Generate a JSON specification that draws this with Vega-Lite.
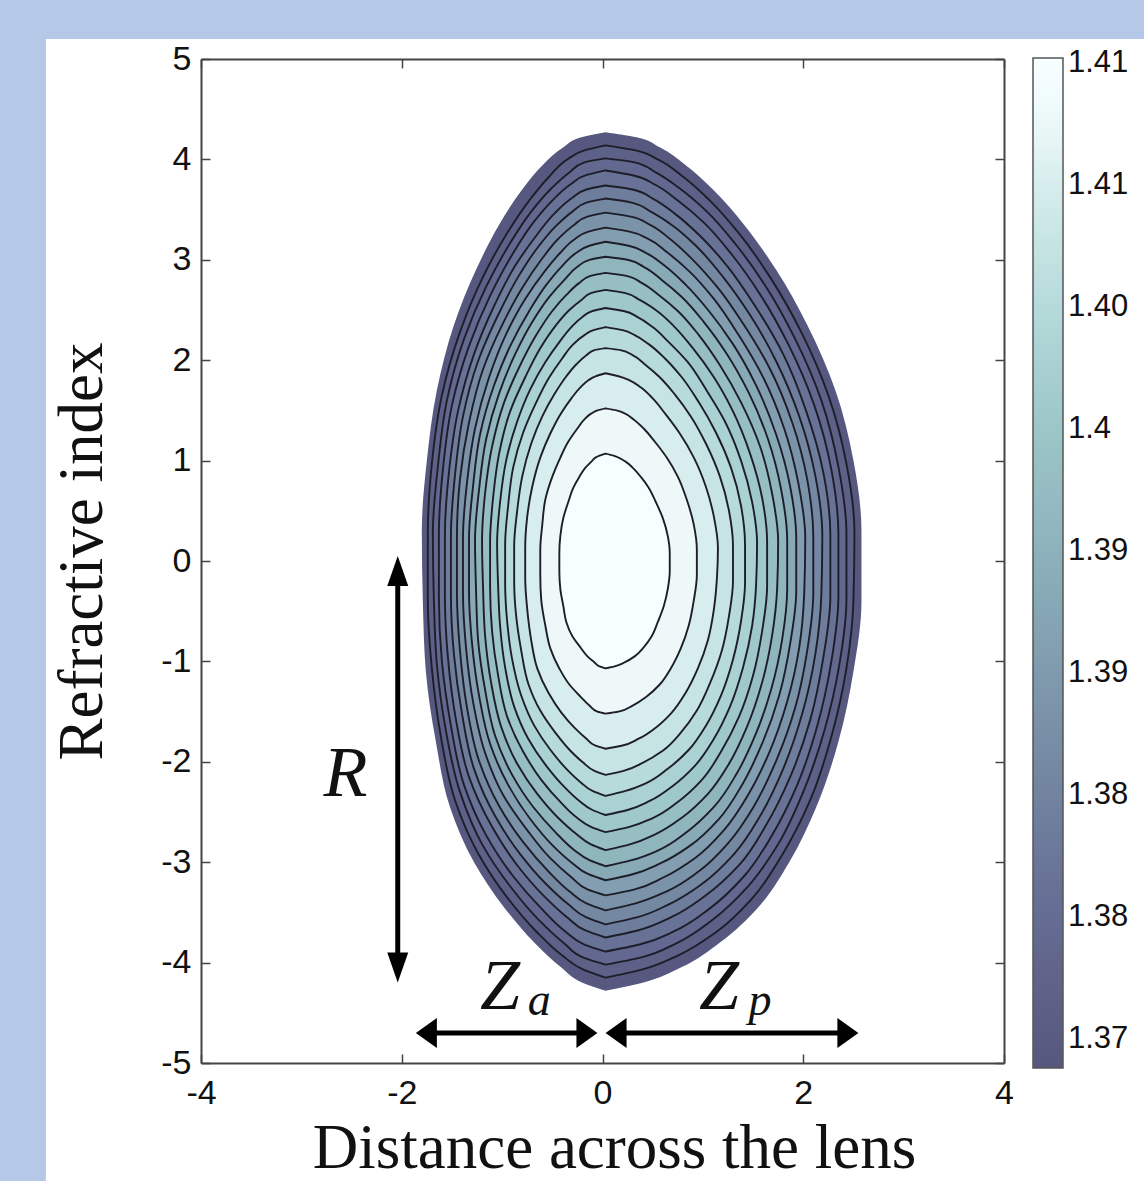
{
  "$schema": "https://vega.github.io/schema/vega-lite/v6.json",
  "width": 803,
  "height": 1004,
  "padding": {"left": 45, "top": 38, "right": 0, "bottom": 0},
  "background": "#b5c8e8",
  "config": {
    "view": {"stroke": null},
    "axis": {"grid": false, "domain": true, "domainColor": "#444444", "domainWidth": 2, "tickColor": "#444444", "tickWidth": 1.5, "tickSize": -9, "labelFont": "Liberation Sans", "labelFontSize": 34, "labelColor": "#111111", "titleFont": "Liberation Serif", "titleFontSize": 63, "titleFontWeight": "normal", "titleColor": "#111111"}
  },
  "datasets": {
    "contours": [
      {"k":0,"n":1.374,"y":4.27,"a":0.03,"b":0.03},{"k":0,"n":1.374,"y":4.22,"a":-0.21,"b":0.34},{"k":0,"n":1.374,"y":4.12,"a":-0.39,"b":0.57},{"k":0,"n":1.374,"y":3.95,"a":-0.59,"b":0.82},{"k":0,"n":1.374,"y":3.70,"a":-0.80,"b":1.10},{"k":0,"n":1.374,"y":3.35,"a":-1.03,"b":1.41},{"k":0,"n":1.374,"y":2.90,"a":-1.26,"b":1.73},{"k":0,"n":1.374,"y":2.35,"a":-1.48,"b":2.04},{"k":0,"n":1.374,"y":1.70,"a":-1.65,"b":2.32},{"k":0,"n":1.374,"y":1.00,"a":-1.75,"b":2.50},{"k":0,"n":1.374,"y":0.30,"a":-1.80,"b":2.58},{"k":0,"n":1.374,"y":-0.40,"a":-1.79,"b":2.58},{"k":0,"n":1.374,"y":-1.10,"a":-1.76,"b":2.50},{"k":0,"n":1.374,"y":-1.80,"a":-1.66,"b":2.35},{"k":0,"n":1.374,"y":-2.45,"a":-1.52,"b":2.13},{"k":0,"n":1.374,"y":-3.00,"a":-1.28,"b":1.86},{"k":0,"n":1.374,"y":-3.45,"a":-0.98,"b":1.55},{"k":0,"n":1.374,"y":-3.80,"a":-0.68,"b":1.17},{"k":0,"n":1.374,"y":-4.05,"a":-0.41,"b":0.78},{"k":0,"n":1.374,"y":-4.20,"a":-0.20,"b":0.40},{"k":0,"n":1.374,"y":-4.28,"a":0.03,"b":0.03},
      {"k":1,"n":1.3764,"y":4.14,"a":0.03,"b":0.03},{"k":1,"n":1.3764,"y":4.09,"a":-0.18,"b":0.33},{"k":1,"n":1.3764,"y":4.00,"a":-0.35,"b":0.55},{"k":1,"n":1.3764,"y":3.83,"a":-0.53,"b":0.80},{"k":1,"n":1.3764,"y":3.59,"a":-0.73,"b":1.07},{"k":1,"n":1.3764,"y":3.25,"a":-0.96,"b":1.37},{"k":1,"n":1.3764,"y":2.81,"a":-1.20,"b":1.68},{"k":1,"n":1.3764,"y":2.28,"a":-1.42,"b":1.98},{"k":1,"n":1.3764,"y":1.65,"a":-1.60,"b":2.25},{"k":1,"n":1.3764,"y":0.97,"a":-1.70,"b":2.43},{"k":1,"n":1.3764,"y":0.29,"a":-1.74,"b":2.51},{"k":1,"n":1.3764,"y":-0.39,"a":-1.74,"b":2.50},{"k":1,"n":1.3764,"y":-1.07,"a":-1.70,"b":2.43},{"k":1,"n":1.3764,"y":-1.75,"a":-1.61,"b":2.28},{"k":1,"n":1.3764,"y":-2.38,"a":-1.47,"b":2.07},{"k":1,"n":1.3764,"y":-2.91,"a":-1.24,"b":1.80},{"k":1,"n":1.3764,"y":-3.35,"a":-0.95,"b":1.50},{"k":1,"n":1.3764,"y":-3.69,"a":-0.66,"b":1.14},{"k":1,"n":1.3764,"y":-3.93,"a":-0.40,"b":0.75},{"k":1,"n":1.3764,"y":-4.07,"a":-0.19,"b":0.39},{"k":1,"n":1.3764,"y":-4.15,"a":0.03,"b":0.03},
      {"k":2,"n":1.3788,"y":4.01,"a":0.03,"b":0.03},{"k":2,"n":1.3788,"y":3.97,"a":-0.18,"b":0.32},{"k":2,"n":1.3788,"y":3.87,"a":-0.33,"b":0.53},{"k":2,"n":1.3788,"y":3.71,"a":-0.51,"b":0.77},{"k":2,"n":1.3788,"y":3.48,"a":-0.71,"b":1.04},{"k":2,"n":1.3788,"y":3.15,"a":-0.93,"b":1.33},{"k":2,"n":1.3788,"y":2.73,"a":-1.16,"b":1.63},{"k":2,"n":1.3788,"y":2.21,"a":-1.38,"b":1.92},{"k":2,"n":1.3788,"y":1.60,"a":-1.55,"b":2.18},{"k":2,"n":1.3788,"y":0.94,"a":-1.64,"b":2.35},{"k":2,"n":1.3788,"y":0.28,"a":-1.69,"b":2.43},{"k":2,"n":1.3788,"y":-0.38,"a":-1.68,"b":2.43},{"k":2,"n":1.3788,"y":-1.03,"a":-1.65,"b":2.36},{"k":2,"n":1.3788,"y":-1.69,"a":-1.56,"b":2.21},{"k":2,"n":1.3788,"y":-2.30,"a":-1.42,"b":2.00},{"k":2,"n":1.3788,"y":-2.82,"a":-1.20,"b":1.75},{"k":2,"n":1.3788,"y":-3.24,"a":-0.92,"b":1.45},{"k":2,"n":1.3788,"y":-3.57,"a":-0.64,"b":1.10},{"k":2,"n":1.3788,"y":-3.81,"a":-0.38,"b":0.73},{"k":2,"n":1.3788,"y":-3.95,"a":-0.19,"b":0.38},{"k":2,"n":1.3788,"y":-4.02,"a":0.03,"b":0.03},
      {"k":3,"n":1.3812,"y":3.89,"a":0.03,"b":0.03},{"k":3,"n":1.3812,"y":3.84,"a":-0.17,"b":0.31},{"k":3,"n":1.3812,"y":3.75,"a":-0.32,"b":0.52},{"k":3,"n":1.3812,"y":3.59,"a":-0.50,"b":0.75},{"k":3,"n":1.3812,"y":3.37,"a":-0.69,"b":1.01},{"k":3,"n":1.3812,"y":3.05,"a":-0.90,"b":1.29},{"k":3,"n":1.3812,"y":2.64,"a":-1.12,"b":1.58},{"k":3,"n":1.3812,"y":2.14,"a":-1.33,"b":1.86},{"k":3,"n":1.3812,"y":1.55,"a":-1.50,"b":2.11},{"k":3,"n":1.3812,"y":0.91,"a":-1.59,"b":2.28},{"k":3,"n":1.3812,"y":0.27,"a":-1.63,"b":2.35},{"k":3,"n":1.3812,"y":-0.36,"a":-1.63,"b":2.35},{"k":3,"n":1.3812,"y":-1.00,"a":-1.60,"b":2.28},{"k":3,"n":1.3812,"y":-1.64,"a":-1.51,"b":2.14},{"k":3,"n":1.3812,"y":-2.23,"a":-1.38,"b":1.94},{"k":3,"n":1.3812,"y":-2.73,"a":-1.16,"b":1.69},{"k":3,"n":1.3812,"y":-3.14,"a":-0.89,"b":1.41},{"k":3,"n":1.3812,"y":-3.46,"a":-0.61,"b":1.07},{"k":3,"n":1.3812,"y":-3.69,"a":-0.37,"b":0.71},{"k":3,"n":1.3812,"y":-3.82,"a":-0.18,"b":0.37},{"k":3,"n":1.3812,"y":-3.89,"a":0.03,"b":0.03},
      {"k":4,"n":1.3836,"y":3.74,"a":0.03,"b":0.03},{"k":4,"n":1.3836,"y":3.70,"a":-0.16,"b":0.30},{"k":4,"n":1.3836,"y":3.61,"a":-0.31,"b":0.50},{"k":4,"n":1.3836,"y":3.46,"a":-0.48,"b":0.72},{"k":4,"n":1.3836,"y":3.24,"a":-0.66,"b":0.97},{"k":4,"n":1.3836,"y":2.94,"a":-0.87,"b":1.24},{"k":4,"n":1.3836,"y":2.54,"a":-1.08,"b":1.52},{"k":4,"n":1.3836,"y":2.06,"a":-1.28,"b":1.80},{"k":4,"n":1.3836,"y":1.49,"a":-1.44,"b":2.03},{"k":4,"n":1.3836,"y":0.88,"a":-1.53,"b":2.20},{"k":4,"n":1.3836,"y":0.26,"a":-1.57,"b":2.27},{"k":4,"n":1.3836,"y":-0.35,"a":-1.57,"b":2.27},{"k":4,"n":1.3836,"y":-0.96,"a":-1.54,"b":2.20},{"k":4,"n":1.3836,"y":-1.58,"a":-1.46,"b":2.07},{"k":4,"n":1.3836,"y":-2.15,"a":-1.33,"b":1.87},{"k":4,"n":1.3836,"y":-2.63,"a":-1.11,"b":1.63},{"k":4,"n":1.3836,"y":-3.03,"a":-0.85,"b":1.36},{"k":4,"n":1.3836,"y":-3.33,"a":-0.59,"b":1.03},{"k":4,"n":1.3836,"y":-3.55,"a":-0.35,"b":0.68},{"k":4,"n":1.3836,"y":-3.68,"a":-0.17,"b":0.35},{"k":4,"n":1.3836,"y":-3.75,"a":0.03,"b":0.03},
      {"k":5,"n":1.3861,"y":3.61,"a":0.03,"b":0.03},{"k":5,"n":1.3861,"y":3.57,"a":-0.16,"b":0.29},{"k":5,"n":1.3861,"y":3.48,"a":-0.30,"b":0.48},{"k":5,"n":1.3861,"y":3.34,"a":-0.46,"b":0.70},{"k":5,"n":1.3861,"y":3.13,"a":-0.64,"b":0.94},{"k":5,"n":1.3861,"y":2.83,"a":-0.84,"b":1.20},{"k":5,"n":1.3861,"y":2.45,"a":-1.04,"b":1.47},{"k":5,"n":1.3861,"y":1.99,"a":-1.24,"b":1.73},{"k":5,"n":1.3861,"y":1.44,"a":-1.39,"b":1.96},{"k":5,"n":1.3861,"y":0.85,"a":-1.47,"b":2.12},{"k":5,"n":1.3861,"y":0.25,"a":-1.51,"b":2.19},{"k":5,"n":1.3861,"y":-0.34,"a":-1.51,"b":2.18},{"k":5,"n":1.3861,"y":-0.93,"a":-1.48,"b":2.12},{"k":5,"n":1.3861,"y":-1.52,"a":-1.40,"b":1.99},{"k":5,"n":1.3861,"y":-2.07,"a":-1.28,"b":1.80},{"k":5,"n":1.3861,"y":-2.54,"a":-1.07,"b":1.57},{"k":5,"n":1.3861,"y":-2.92,"a":-0.82,"b":1.31},{"k":5,"n":1.3861,"y":-3.21,"a":-0.57,"b":1.00},{"k":5,"n":1.3861,"y":-3.42,"a":-0.34,"b":0.66},{"k":5,"n":1.3861,"y":-3.55,"a":-0.16,"b":0.34},{"k":5,"n":1.3861,"y":-3.62,"a":0.03,"b":0.03},
      {"k":6,"n":1.3885,"y":3.47,"a":0.03,"b":0.03},{"k":6,"n":1.3885,"y":3.43,"a":-0.15,"b":0.28},{"k":6,"n":1.3885,"y":3.35,"a":-0.28,"b":0.47},{"k":6,"n":1.3885,"y":3.21,"a":-0.44,"b":0.67},{"k":6,"n":1.3885,"y":3.00,"a":-0.61,"b":0.90},{"k":6,"n":1.3885,"y":2.72,"a":-0.80,"b":1.15},{"k":6,"n":1.3885,"y":2.35,"a":-1.00,"b":1.41},{"k":6,"n":1.3885,"y":1.91,"a":-1.19,"b":1.67},{"k":6,"n":1.3885,"y":1.38,"a":-1.33,"b":1.89},{"k":6,"n":1.3885,"y":0.81,"a":-1.42,"b":2.04},{"k":6,"n":1.3885,"y":0.24,"a":-1.45,"b":2.10},{"k":6,"n":1.3885,"y":-0.32,"a":-1.45,"b":2.10},{"k":6,"n":1.3885,"y":-0.89,"a":-1.42,"b":2.04},{"k":6,"n":1.3885,"y":-1.46,"a":-1.35,"b":1.92},{"k":6,"n":1.3885,"y":-1.99,"a":-1.23,"b":1.73},{"k":6,"n":1.3885,"y":-2.44,"a":-1.03,"b":1.51},{"k":6,"n":1.3885,"y":-2.80,"a":-0.79,"b":1.26},{"k":6,"n":1.3885,"y":-3.09,"a":-0.54,"b":0.96},{"k":6,"n":1.3885,"y":-3.29,"a":-0.33,"b":0.64},{"k":6,"n":1.3885,"y":-3.41,"a":-0.16,"b":0.33},{"k":6,"n":1.3885,"y":-3.48,"a":0.03,"b":0.03},
      {"k":7,"n":1.3909,"y":3.32,"a":0.03,"b":0.03},{"k":7,"n":1.3909,"y":3.28,"a":-0.14,"b":0.27},{"k":7,"n":1.3909,"y":3.21,"a":-0.27,"b":0.45},{"k":7,"n":1.3909,"y":3.07,"a":-0.42,"b":0.65},{"k":7,"n":1.3909,"y":2.88,"a":-0.58,"b":0.87},{"k":7,"n":1.3909,"y":2.61,"a":-0.77,"b":1.11},{"k":7,"n":1.3909,"y":2.26,"a":-0.96,"b":1.35},{"k":7,"n":1.3909,"y":1.83,"a":-1.13,"b":1.60},{"k":7,"n":1.3909,"y":1.32,"a":-1.27,"b":1.81},{"k":7,"n":1.3909,"y":0.78,"a":-1.35,"b":1.95},{"k":7,"n":1.3909,"y":0.23,"a":-1.39,"b":2.02},{"k":7,"n":1.3909,"y":-0.31,"a":-1.39,"b":2.01},{"k":7,"n":1.3909,"y":-0.86,"a":-1.36,"b":1.96},{"k":7,"n":1.3909,"y":-1.40,"a":-1.29,"b":1.84},{"k":7,"n":1.3909,"y":-1.91,"a":-1.17,"b":1.66},{"k":7,"n":1.3909,"y":-2.33,"a":-0.99,"b":1.45},{"k":7,"n":1.3909,"y":-2.68,"a":-0.75,"b":1.21},{"k":7,"n":1.3909,"y":-2.96,"a":-0.52,"b":0.92},{"k":7,"n":1.3909,"y":-3.15,"a":-0.31,"b":0.61},{"k":7,"n":1.3909,"y":-3.27,"a":-0.15,"b":0.32},{"k":7,"n":1.3909,"y":-3.33,"a":0.03,"b":0.03},
      {"k":8,"n":1.3933,"y":3.18,"a":0.03,"b":0.03},{"k":8,"n":1.3933,"y":3.14,"a":-0.13,"b":0.26},{"k":8,"n":1.3933,"y":3.07,"a":-0.26,"b":0.43},{"k":8,"n":1.3933,"y":2.94,"a":-0.40,"b":0.62},{"k":8,"n":1.3933,"y":2.75,"a":-0.56,"b":0.83},{"k":8,"n":1.3933,"y":2.49,"a":-0.73,"b":1.06},{"k":8,"n":1.3933,"y":2.16,"a":-0.91,"b":1.30},{"k":8,"n":1.3933,"y":1.75,"a":-1.08,"b":1.53},{"k":8,"n":1.3933,"y":1.26,"a":-1.22,"b":1.73},{"k":8,"n":1.3933,"y":0.74,"a":-1.29,"b":1.87},{"k":8,"n":1.3933,"y":0.22,"a":-1.33,"b":1.93},{"k":8,"n":1.3933,"y":-0.30,"a":-1.33,"b":1.93},{"k":8,"n":1.3933,"y":-0.82,"a":-1.30,"b":1.87},{"k":8,"n":1.3933,"y":-1.34,"a":-1.23,"b":1.76},{"k":8,"n":1.3933,"y":-1.82,"a":-1.12,"b":1.59},{"k":8,"n":1.3933,"y":-2.23,"a":-0.94,"b":1.39},{"k":8,"n":1.3933,"y":-2.57,"a":-0.72,"b":1.16},{"k":8,"n":1.3933,"y":-2.83,"a":-0.50,"b":0.88},{"k":8,"n":1.3933,"y":-3.01,"a":-0.30,"b":0.58},{"k":8,"n":1.3933,"y":-3.12,"a":-0.14,"b":0.30},{"k":8,"n":1.3933,"y":-3.18,"a":0.03,"b":0.03},
      {"k":9,"n":1.3957,"y":3.03,"a":0.03,"b":0.03},{"k":9,"n":1.3957,"y":3.00,"a":-0.13,"b":0.25},{"k":9,"n":1.3957,"y":2.93,"a":-0.25,"b":0.41},{"k":9,"n":1.3957,"y":2.80,"a":-0.38,"b":0.59},{"k":9,"n":1.3957,"y":2.63,"a":-0.53,"b":0.79},{"k":9,"n":1.3957,"y":2.38,"a":-0.70,"b":1.01},{"k":9,"n":1.3957,"y":2.06,"a":-0.87,"b":1.24},{"k":9,"n":1.3957,"y":1.67,"a":-1.03,"b":1.46},{"k":9,"n":1.3957,"y":1.21,"a":-1.16,"b":1.65},{"k":9,"n":1.3957,"y":0.71,"a":-1.23,"b":1.78},{"k":9,"n":1.3957,"y":0.21,"a":-1.27,"b":1.84},{"k":9,"n":1.3957,"y":-0.28,"a":-1.26,"b":1.84},{"k":9,"n":1.3957,"y":-0.78,"a":-1.24,"b":1.79},{"k":9,"n":1.3957,"y":-1.28,"a":-1.17,"b":1.68},{"k":9,"n":1.3957,"y":-1.74,"a":-1.07,"b":1.52},{"k":9,"n":1.3957,"y":-2.13,"a":-0.90,"b":1.33},{"k":9,"n":1.3957,"y":-2.45,"a":-0.69,"b":1.11},{"k":9,"n":1.3957,"y":-2.70,"a":-0.47,"b":0.84},{"k":9,"n":1.3957,"y":-2.88,"a":-0.28,"b":0.56},{"k":9,"n":1.3957,"y":-2.98,"a":-0.13,"b":0.29},{"k":9,"n":1.3957,"y":-3.04,"a":0.03,"b":0.03},
      {"k":10,"n":1.3981,"y":2.87,"a":0.03,"b":0.03},{"k":10,"n":1.3981,"y":2.84,"a":-0.12,"b":0.24},{"k":10,"n":1.3981,"y":2.77,"a":-0.23,"b":0.39},{"k":10,"n":1.3981,"y":2.65,"a":-0.36,"b":0.56},{"k":10,"n":1.3981,"y":2.49,"a":-0.50,"b":0.75},{"k":10,"n":1.3981,"y":2.25,"a":-0.66,"b":0.96},{"k":10,"n":1.3981,"y":1.95,"a":-0.82,"b":1.17},{"k":10,"n":1.3981,"y":1.58,"a":-0.98,"b":1.38},{"k":10,"n":1.3981,"y":1.14,"a":-1.10,"b":1.57},{"k":10,"n":1.3981,"y":0.67,"a":-1.17,"b":1.69},{"k":10,"n":1.3981,"y":0.20,"a":-1.20,"b":1.75},{"k":10,"n":1.3981,"y":-0.27,"a":-1.19,"b":1.74},{"k":10,"n":1.3981,"y":-0.74,"a":-1.17,"b":1.69},{"k":10,"n":1.3981,"y":-1.21,"a":-1.11,"b":1.59},{"k":10,"n":1.3981,"y":-1.65,"a":-1.01,"b":1.44},{"k":10,"n":1.3981,"y":-2.02,"a":-0.85,"b":1.26},{"k":10,"n":1.3981,"y":-2.32,"a":-0.65,"b":1.05},{"k":10,"n":1.3981,"y":-2.55,"a":-0.45,"b":0.80},{"k":10,"n":1.3981,"y":-2.72,"a":-0.26,"b":0.53},{"k":10,"n":1.3981,"y":-2.82,"a":-0.12,"b":0.28},{"k":10,"n":1.3981,"y":-2.88,"a":0.03,"b":0.03},
      {"k":11,"n":1.4005,"y":2.70,"a":0.03,"b":0.03},{"k":11,"n":1.4005,"y":2.67,"a":-0.11,"b":0.22},{"k":11,"n":1.4005,"y":2.60,"a":-0.21,"b":0.37},{"k":11,"n":1.4005,"y":2.50,"a":-0.33,"b":0.53},{"k":11,"n":1.4005,"y":2.34,"a":-0.47,"b":0.71},{"k":11,"n":1.4005,"y":2.12,"a":-0.62,"b":0.90},{"k":11,"n":1.4005,"y":1.83,"a":-0.77,"b":1.11},{"k":11,"n":1.4005,"y":1.49,"a":-0.92,"b":1.30},{"k":11,"n":1.4005,"y":1.07,"a":-1.03,"b":1.47},{"k":11,"n":1.4005,"y":0.63,"a":-1.09,"b":1.59},{"k":11,"n":1.4005,"y":0.19,"a":-1.12,"b":1.64},{"k":11,"n":1.4005,"y":-0.25,"a":-1.12,"b":1.64},{"k":11,"n":1.4005,"y":-0.70,"a":-1.10,"b":1.59},{"k":11,"n":1.4005,"y":-1.14,"a":-1.04,"b":1.50},{"k":11,"n":1.4005,"y":-1.55,"a":-0.95,"b":1.36},{"k":11,"n":1.4005,"y":-1.90,"a":-0.79,"b":1.18},{"k":11,"n":1.4005,"y":-2.18,"a":-0.61,"b":0.99},{"k":11,"n":1.4005,"y":-2.40,"a":-0.42,"b":0.75},{"k":11,"n":1.4005,"y":-2.56,"a":-0.25,"b":0.50},{"k":11,"n":1.4005,"y":-2.65,"a":-0.11,"b":0.26},{"k":11,"n":1.4005,"y":-2.70,"a":0.03,"b":0.03},
      {"k":12,"n":1.4029,"y":2.52,"a":0.03,"b":0.03},{"k":12,"n":1.4029,"y":2.49,"a":-0.10,"b":0.21},{"k":12,"n":1.4029,"y":2.43,"a":-0.20,"b":0.35},{"k":12,"n":1.4029,"y":2.33,"a":-0.31,"b":0.50},{"k":12,"n":1.4029,"y":2.18,"a":-0.43,"b":0.66},{"k":12,"n":1.4029,"y":1.98,"a":-0.57,"b":0.85},{"k":12,"n":1.4029,"y":1.71,"a":-0.72,"b":1.03},{"k":12,"n":1.4029,"y":1.39,"a":-0.85,"b":1.22},{"k":12,"n":1.4029,"y":1.00,"a":-0.96,"b":1.38},{"k":12,"n":1.4029,"y":0.59,"a":-1.02,"b":1.49},{"k":12,"n":1.4029,"y":0.18,"a":-1.05,"b":1.54},{"k":12,"n":1.4029,"y":-0.24,"a":-1.04,"b":1.53},{"k":12,"n":1.4029,"y":-0.65,"a":-1.02,"b":1.49},{"k":12,"n":1.4029,"y":-1.06,"a":-0.97,"b":1.40},{"k":12,"n":1.4029,"y":-1.45,"a":-0.88,"b":1.27},{"k":12,"n":1.4029,"y":-1.77,"a":-0.74,"b":1.11},{"k":12,"n":1.4029,"y":-2.04,"a":-0.56,"b":0.92},{"k":12,"n":1.4029,"y":-2.24,"a":-0.39,"b":0.70},{"k":12,"n":1.4029,"y":-2.39,"a":-0.23,"b":0.47},{"k":12,"n":1.4029,"y":-2.48,"a":-0.10,"b":0.25},{"k":12,"n":1.4029,"y":-2.53,"a":0.03,"b":0.03},
      {"k":13,"n":1.4053,"y":2.33,"a":0.03,"b":0.03},{"k":13,"n":1.4053,"y":2.30,"a":-0.09,"b":0.20},{"k":13,"n":1.4053,"y":2.25,"a":-0.18,"b":0.32},{"k":13,"n":1.4053,"y":2.16,"a":-0.29,"b":0.46},{"k":13,"n":1.4053,"y":2.02,"a":-0.40,"b":0.62},{"k":13,"n":1.4053,"y":1.83,"a":-0.53,"b":0.79},{"k":13,"n":1.4053,"y":1.58,"a":-0.66,"b":0.96},{"k":13,"n":1.4053,"y":1.28,"a":-0.79,"b":1.13},{"k":13,"n":1.4053,"y":0.93,"a":-0.89,"b":1.28},{"k":13,"n":1.4053,"y":0.55,"a":-0.94,"b":1.38},{"k":13,"n":1.4053,"y":0.16,"a":-0.97,"b":1.42},{"k":13,"n":1.4053,"y":-0.22,"a":-0.97,"b":1.42},{"k":13,"n":1.4053,"y":-0.60,"a":-0.95,"b":1.38},{"k":13,"n":1.4053,"y":-0.98,"a":-0.90,"b":1.30},{"k":13,"n":1.4053,"y":-1.34,"a":-0.81,"b":1.18},{"k":13,"n":1.4053,"y":-1.64,"a":-0.68,"b":1.03},{"k":13,"n":1.4053,"y":-1.88,"a":-0.52,"b":0.86},{"k":13,"n":1.4053,"y":-2.07,"a":-0.36,"b":0.65},{"k":13,"n":1.4053,"y":-2.21,"a":-0.21,"b":0.44},{"k":13,"n":1.4053,"y":-2.29,"a":-0.10,"b":0.23},{"k":13,"n":1.4053,"y":-2.34,"a":0.03,"b":0.03},
      {"k":14,"n":1.4077,"y":2.12,"a":0.03,"b":0.03},{"k":14,"n":1.4077,"y":2.10,"a":-0.08,"b":0.18},{"k":14,"n":1.4077,"y":2.05,"a":-0.16,"b":0.30},{"k":14,"n":1.4077,"y":1.96,"a":-0.26,"b":0.42},{"k":14,"n":1.4077,"y":1.84,"a":-0.36,"b":0.56},{"k":14,"n":1.4077,"y":1.66,"a":-0.48,"b":0.72},{"k":14,"n":1.4077,"y":1.44,"a":-0.60,"b":0.88},{"k":14,"n":1.4077,"y":1.17,"a":-0.71,"b":1.03},{"k":14,"n":1.4077,"y":0.84,"a":-0.80,"b":1.17},{"k":14,"n":1.4077,"y":0.50,"a":-0.85,"b":1.26},{"k":14,"n":1.4077,"y":0.15,"a":-0.88,"b":1.30},{"k":14,"n":1.4077,"y":-0.20,"a":-0.88,"b":1.30},{"k":14,"n":1.4077,"y":-0.55,"a":-0.86,"b":1.26},{"k":14,"n":1.4077,"y":-0.89,"a":-0.81,"b":1.19},{"k":14,"n":1.4077,"y":-1.22,"a":-0.74,"b":1.07},{"k":14,"n":1.4077,"y":-1.49,"a":-0.62,"b":0.94},{"k":14,"n":1.4077,"y":-1.71,"a":-0.47,"b":0.78},{"k":14,"n":1.4077,"y":-1.89,"a":-0.32,"b":0.60},{"k":14,"n":1.4077,"y":-2.01,"a":-0.19,"b":0.40},{"k":14,"n":1.4077,"y":-2.09,"a":-0.08,"b":0.21},{"k":14,"n":1.4077,"y":-2.13,"a":0.03,"b":0.03},
      {"k":15,"n":1.4102,"y":1.87,"a":0.03,"b":0.03},{"k":15,"n":1.4102,"y":1.84,"a":-0.07,"b":0.16},{"k":15,"n":1.4102,"y":1.80,"a":-0.14,"b":0.27},{"k":15,"n":1.4102,"y":1.73,"a":-0.22,"b":0.38},{"k":15,"n":1.4102,"y":1.62,"a":-0.31,"b":0.50},{"k":15,"n":1.4102,"y":1.46,"a":-0.42,"b":0.63},{"k":15,"n":1.4102,"y":1.27,"a":-0.52,"b":0.77},{"k":15,"n":1.4102,"y":1.03,"a":-0.62,"b":0.91},{"k":15,"n":1.4102,"y":0.74,"a":-0.70,"b":1.03},{"k":15,"n":1.4102,"y":0.44,"a":-0.75,"b":1.11},{"k":15,"n":1.4102,"y":0.13,"a":-0.77,"b":1.15},{"k":15,"n":1.4102,"y":-0.17,"a":-0.77,"b":1.14},{"k":15,"n":1.4102,"y":-0.48,"a":-0.75,"b":1.11},{"k":15,"n":1.4102,"y":-0.79,"a":-0.71,"b":1.05},{"k":15,"n":1.4102,"y":-1.07,"a":-0.65,"b":0.95},{"k":15,"n":1.4102,"y":-1.31,"a":-0.54,"b":0.83},{"k":15,"n":1.4102,"y":-1.51,"a":-0.41,"b":0.69},{"k":15,"n":1.4102,"y":-1.66,"a":-0.28,"b":0.53},{"k":15,"n":1.4102,"y":-1.77,"a":-0.16,"b":0.36},{"k":15,"n":1.4102,"y":-1.84,"a":-0.07,"b":0.19},{"k":15,"n":1.4102,"y":-1.87,"a":0.03,"b":0.03},
      {"k":16,"n":1.4126,"y":1.52,"a":0.03,"b":0.03},{"k":16,"n":1.4126,"y":1.50,"a":-0.05,"b":0.14},{"k":16,"n":1.4126,"y":1.47,"a":-0.11,"b":0.22},{"k":16,"n":1.4126,"y":1.41,"a":-0.18,"b":0.31},{"k":16,"n":1.4126,"y":1.32,"a":-0.25,"b":0.41},{"k":16,"n":1.4126,"y":1.19,"a":-0.34,"b":0.52},{"k":16,"n":1.4126,"y":1.03,"a":-0.42,"b":0.64},{"k":16,"n":1.4126,"y":0.84,"a":-0.50,"b":0.75},{"k":16,"n":1.4126,"y":0.61,"a":-0.57,"b":0.84},{"k":16,"n":1.4126,"y":0.36,"a":-0.60,"b":0.91},{"k":16,"n":1.4126,"y":0.11,"a":-0.62,"b":0.94},{"k":16,"n":1.4126,"y":-0.14,"a":-0.62,"b":0.94},{"k":16,"n":1.4126,"y":-0.39,"a":-0.61,"b":0.91},{"k":16,"n":1.4126,"y":-0.64,"a":-0.57,"b":0.86},{"k":16,"n":1.4126,"y":-0.87,"a":-0.52,"b":0.78},{"k":16,"n":1.4126,"y":-1.07,"a":-0.43,"b":0.68},{"k":16,"n":1.4126,"y":-1.23,"a":-0.33,"b":0.57},{"k":16,"n":1.4126,"y":-1.35,"a":-0.22,"b":0.44},{"k":16,"n":1.4126,"y":-1.44,"a":-0.13,"b":0.30},{"k":16,"n":1.4126,"y":-1.50,"a":-0.05,"b":0.16},{"k":16,"n":1.4126,"y":-1.52,"a":0.03,"b":0.03},
      {"k":17,"n":1.415,"y":1.07,"a":0.03,"b":0.03},{"k":17,"n":1.415,"y":1.05,"a":-0.03,"b":0.11},{"k":17,"n":1.415,"y":1.03,"a":-0.07,"b":0.16},{"k":17,"n":1.415,"y":0.99,"a":-0.11,"b":0.23},{"k":17,"n":1.415,"y":0.93,"a":-0.17,"b":0.30},{"k":17,"n":1.415,"y":0.84,"a":-0.23,"b":0.38},{"k":17,"n":1.415,"y":0.73,"a":-0.29,"b":0.46},{"k":17,"n":1.415,"y":0.59,"a":-0.34,"b":0.53},{"k":17,"n":1.415,"y":0.43,"a":-0.39,"b":0.60},{"k":17,"n":1.415,"y":0.25,"a":-0.42,"b":0.65},{"k":17,"n":1.415,"y":0.08,"a":-0.43,"b":0.67},{"k":17,"n":1.415,"y":-0.10,"a":-0.43,"b":0.67},{"k":17,"n":1.415,"y":-0.28,"a":-0.42,"b":0.65},{"k":17,"n":1.415,"y":-0.45,"a":-0.39,"b":0.61},{"k":17,"n":1.415,"y":-0.61,"a":-0.36,"b":0.55},{"k":17,"n":1.415,"y":-0.75,"a":-0.30,"b":0.49},{"k":17,"n":1.415,"y":-0.86,"a":-0.22,"b":0.41},{"k":17,"n":1.415,"y":-0.95,"a":-0.15,"b":0.32},{"k":17,"n":1.415,"y":-1.01,"a":-0.08,"b":0.22},{"k":17,"n":1.415,"y":-1.05,"a":-0.03,"b":0.12},{"k":17,"n":1.415,"y":-1.07,"a":0.03,"b":0.03}
    ],
    "shafts": [
      {"x": -2.04, "x2": -2.04, "y": -0.12, "y2": -4.02},
      {"x": -1.68, "x2": -0.23, "y": -4.70, "y2": -4.70},
      {"x": 0.21, "x2": 2.37, "y": -4.70, "y2": -4.70}
    ],
    "heads": [
      {"x": -2.04, "y": -0.10, "dir": "up"},
      {"x": -2.04, "y": -4.05, "dir": "down"},
      {"x": -1.71, "y": -4.70, "dir": "left"},
      {"x": -0.20, "y": -4.70, "dir": "right"},
      {"x": 0.18, "y": -4.70, "dir": "left"},
      {"x": 2.40, "y": -4.70, "dir": "right"}
    ],
    "bigText": [
      {"t": "R", "x": -2.56, "y": -2.34},
      {"t": "Z", "x": -1.02, "y": -4.46},
      {"t": "Z", "x": 1.16, "y": -4.46}
    ],
    "smallText": [
      {"t": "a", "x": -0.63, "y": -4.52},
      {"t": "p", "x": 1.57, "y": -4.52}
    ]
  },
  "layer": [
    {
      "data": {"values": [{}]},
      "mark": {"type": "rect", "fill": "white", "clip": false},
      "encoding": {
        "x": {"datum": -5.545, "type": "quantitative", "scale": {"domain": [-4, 4], "nice": false, "zero": false}, "axis": null},
        "x2": {"datum": 5.6},
        "y": {"datum": 5.2, "type": "quantitative", "scale": {"domain": [-5, 5], "nice": false, "zero": false}, "axis": null},
        "y2": {"datum": -6.3}
      }
    },
    {
      "data": {"name": "contours"},
      "mark": {"type": "area", "orient": "horizontal", "interpolate": "monotone", "opacity": 1},
      "encoding": {
        "y": {"field": "y", "type": "quantitative", "scale": {"domain": [-5, 5], "nice": false, "zero": false},
              "axis": {"zindex": 2, "values": [-5, -4, -3, -2, -1, 0, 1, 2, 3, 4, 5], "labelExpr": "toString(datum.value)", "title": "Refractive index", "labelPadding": 19, "titleX": -100, "titleY": 492, "titleAngle": -90, "titleAlign": "center", "titleBaseline": "alphabetic"}},
        "x": {"field": "a", "type": "quantitative", "stack": null, "scale": {"domain": [-4, 4], "nice": false, "zero": false},
              "axis": {"zindex": 2, "values": [-4, -2, 0, 2, 4], "labelExpr": "toString(datum.value)", "title": "Distance across the lens", "labelPadding": 22, "labelFlush": false, "titleX": 413, "titleY": 104, "titleAlign": "center", "titleBaseline": "alphabetic"}},
        "x2": {"field": "b"},
        "detail": {"field": "k", "type": "ordinal"},
        "color": {"field": "n", "type": "quantitative",
                  "scale": {"domain": [1.3738, 1.375, 1.38, 1.385, 1.39, 1.395, 1.4, 1.405, 1.41, 1.4125, 1.4152],
                            "range": ["#57577e", "#5a5b82", "#656c93", "#72839f", "#809aad", "#8db2bb", "#9cc6c8", "#b5dada", "#d6eded", "#eef8f8", "#ffffff"]},
                  "legend": {"orient": "none", "legendX": 832, "legendY": -1, "direction": "vertical", "gradientLength": 1010, "gradientThickness": 30, "gradientStrokeColor": "#555555", "gradientStrokeWidth": 1.5, "values": [1.375, 1.38, 1.385, 1.39, 1.395, 1.4, 1.405, 1.41, 1.415], "labelExpr": "substring(toString(datum.value), 0, 4)", "labelFont": "Liberation Sans", "labelFontSize": 31, "labelColor": "#111111", "labelOffset": 5, "labelOverlap": false, "title": null, "padding": 0}}
      }
    },
    {
      "data": {"name": "contours"},
      "transform": [{"filter": "datum.k > 0"}],
      "mark": {"type": "area", "orient": "horizontal", "interpolate": "monotone", "fillOpacity": 0, "stroke": "#1e1e2a", "strokeWidth": 1.9},
      "encoding": {
        "y": {"field": "y", "type": "quantitative", "axis": null},
        "x": {"field": "a", "type": "quantitative", "stack": null, "axis": null},
        "x2": {"field": "b"},
        "detail": {"field": "k", "type": "ordinal"}
      }
    },
    {
      "data": {"name": "shafts"},
      "mark": {"type": "rule", "color": "black", "strokeWidth": 5},
      "encoding": {
        "x": {"field": "x", "type": "quantitative", "axis": null},
        "x2": {"field": "x2"},
        "y": {"field": "y", "type": "quantitative", "axis": null},
        "y2": {"field": "y2"}
      }
    },
    {
      "data": {"name": "heads"},
      "mark": {"type": "point", "filled": true, "color": "black", "opacity": 1, "size": 900, "strokeWidth": 0},
      "encoding": {
        "x": {"field": "x", "type": "quantitative", "axis": {"zindex": 2, "orient": "top", "values": [-4, -2, 0, 2, 4], "labels": false, "title": null}},
        "y": {"field": "y", "type": "quantitative", "axis": {"zindex": 2, "orient": "right", "values": [-5, -4, -3, -2, -1, 0, 1, 2, 3, 4, 5], "labels": false, "title": null}},
        "shape": {"field": "dir", "type": "nominal", "legend": null,
                  "scale": {"domain": ["up", "down", "left", "right"],
                            "range": ["M0,-1L0.7,1L-0.7,1Z", "M0,1L0.7,-1L-0.7,-1Z", "M-1,0L0.4,-1L0.4,1Z", "M1,0L-0.4,-1L-0.4,1Z"]}}
      }
    },
    {
      "data": {"name": "bigText"},
      "mark": {"type": "text", "font": "Liberation Serif", "fontStyle": "italic", "fontSize": 72, "color": "#111111", "align": "center", "baseline": "alphabetic"},
      "encoding": {
        "x": {"field": "x", "type": "quantitative", "axis": null},
        "y": {"field": "y", "type": "quantitative", "axis": null},
        "text": {"field": "t"}
      }
    },
    {
      "data": {"name": "smallText"},
      "mark": {"type": "text", "font": "Liberation Serif", "fontStyle": "italic", "fontSize": 46, "color": "#111111", "align": "center", "baseline": "alphabetic"},
      "encoding": {
        "x": {"field": "x", "type": "quantitative", "axis": null},
        "y": {"field": "y", "type": "quantitative", "axis": null},
        "text": {"field": "t"}
      }
    }
  ],
  "resolve": {"axis": {"x": "independent", "y": "independent"}}
}
